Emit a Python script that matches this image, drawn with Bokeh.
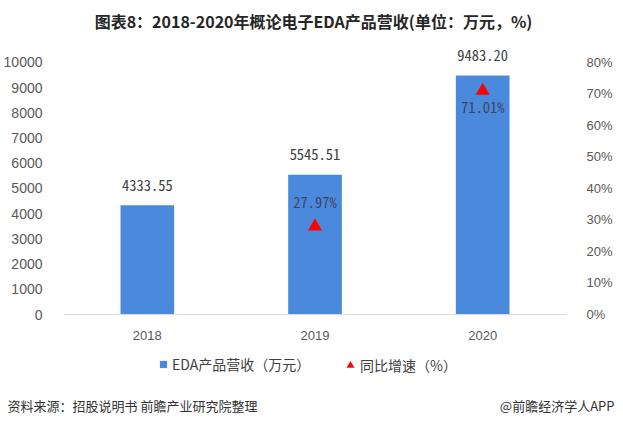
from bokeh.plotting import figure
from bokeh.layouts import column
from bokeh.models import (Range1d, LinearAxis, FixedTicker, PrintfTickFormatter,
                          ColumnDataSource, Label, LabelSet, Legend, LegendItem, FactorRange)
from bokeh.core.properties import value
from bokeh.embed import file_html
from bokeh.resources import INLINE

years = ["2018", "2019", "2020"]
revenue = [4333.55, 5545.51, 9483.20]
revenue_labels = ["4333.55", "5545.51", "9483.20"]
growth_years = ["2019", "2020"]
growth = [27.97, 71.01]
growth_labels = ["27.97%", "71.01%"]
left_ticks = [0, 1000, 2000, 3000, 4000, 5000, 6000, 7000, 8000, 9000, 10000]
right_ticks = [0, 10, 20, 30, 40, 50, 60, 70, 80]

title_text = "图表8：2018-2020年概论电子EDA产品营收(单位：万元，%)"
source_text = "资料来源：招股说明书 前瞻产业研究院整理"
brand_text = "@前瞻经济学人APP"
legend_bar = "EDA产品营收（万元）"
legend_tri = "同比增速（%）"

BAR = "#4a89dc"
RED = "#ff0000"
TXT = "#595959"
CJK = "Noto Sans CJK SC"
MONO = "'Noto Sans Mono CJK SC', 'DejaVu Sans Mono', 'Liberation Mono', monospace"

W = 615
H1 = 345
H2 = 72

p = figure(width=W, height=H1, x_range=FactorRange(*years, range_padding=0),
           y_range=Range1d(0, 12460), output_backend="svg", toolbar_location=None,
           min_border_left=63, min_border_right=42, min_border_top=0, min_border_bottom=31)
p.frame_align = False
p.extra_y_ranges = {"pct": Range1d(0, 99.68)}
p.outline_line_color = None
p.xgrid.grid_line_color = None
p.ygrid.grid_line_color = None
p.background_fill_color = "white"
p.border_fill_color = "white"

# axes
p.yaxis.ticker = FixedTicker(ticks=left_ticks)
p.yaxis.formatter = PrintfTickFormatter(format="%d")
p.yaxis.axis_line_color = None
p.yaxis.major_tick_line_color = None
p.yaxis.minor_tick_line_color = None
p.yaxis.major_label_standoff = 15
p.yaxis.major_label_text_font = "Liberation Sans"
p.yaxis.major_label_text_font_size = "14px"
p.yaxis.major_label_text_color = TXT

ax2 = LinearAxis(y_range_name="pct", ticker=FixedTicker(ticks=right_ticks),
                 formatter=PrintfTickFormatter(format="%d%%"))
ax2.axis_line_color = None
ax2.major_tick_line_color = None
ax2.minor_tick_line_color = None
ax2.major_label_standoff = 14
ax2.major_label_text_font = "Liberation Sans"
ax2.major_label_text_font_size = "13px"
ax2.major_label_text_color = TXT
p.add_layout(ax2, "right")

p.xaxis.axis_line_color = "#d9d9d9"
p.xaxis.major_tick_line_color = None
p.xaxis.minor_tick_line_color = None
p.xaxis.major_label_standoff = 10
p.xaxis.major_label_text_font = "Liberation Sans"
p.xaxis.major_label_text_font_size = "13px"
p.xaxis.major_label_text_color = TXT

# bars
src = ColumnDataSource(dict(x=years, y=revenue, lab=revenue_labels))
p.vbar(x="x", top="y", width=0.32, source=src, fill_color=BAR, line_color=None)
p.add_layout(LabelSet(x="x", y="y", text="lab", source=src, y_offset=20,
                      text_align="center", text_baseline="middle",
                      text_font=value(MONO), text_font_size="14.5px", text_color="#404040"))

# growth triangles
gsrc = ColumnDataSource(dict(x=growth_years, y=growth, lab=growth_labels, off=[25, -16]))
p.scatter(x="x", y="y", source=gsrc, y_range_name="pct", marker="triangle",
          size=14, fill_color=RED, line_color=None)
p.add_layout(LabelSet(x="x", y="y", text="lab", source=gsrc, y_range_name="pct",
                      y_offset="off", text_align="center", text_baseline="middle",
                      text_font=value(MONO), text_font_size="14.5px", text_color="#3a4660"))

# title inside the (tall) frame
p.add_layout(Label(x=250, y=294, x_units="screen", y_units="screen", text=title_text,
                   text_align="center", text_baseline="middle", text_font=CJK,
                   text_font_size="16px", text_font_style="bold", text_color="#262626"))

# lower strip: legend and footer
p2 = figure(width=W, height=H2, x_range=Range1d(0, 1), y_range=Range1d(0, 1),
            output_backend="svg", toolbar_location=None,
            x_axis_location=None, y_axis_location=None,
            min_border_left=0, min_border_right=0, min_border_top=0, min_border_bottom=0)
p2.frame_align = False
p2.outline_line_color = None
p2.xgrid.grid_line_color = None
p2.ygrid.grid_line_color = None
p2.background_fill_color = "white"
p2.border_fill_color = "white"

# legend proxies: one point each, placed outside the visible range
proxy = ColumnDataSource(dict(x=[5], y=[5]))
lg1 = p2.scatter(x="x", y="y", source=proxy, marker="square", size=7,
                 fill_color=BAR, line_color=None)
lg2 = p2.scatter(x="x", y="y", source=proxy, marker="triangle", size=9,
                 fill_color=RED, line_color=None)
for rend, lab, vx, vy, g in [(lg1, legend_bar, 154, 43, 18), (lg2, legend_tri, 340, 42, 20)]:
    lg = Legend(items=[LegendItem(label=lab, renderers=[rend])], location=(vx, vy),
                padding=0, margin=0, glyph_width=g, glyph_height=g, label_height=16,
                label_standoff=0, border_line_color=None, background_fill_alpha=0,
                label_text_font=CJK, label_text_font_size="14px", label_text_color="#404040")
    p2.add_layout(lg, "center")

p2.add_layout(Label(x=7, y=12, x_units="screen", y_units="screen", text=source_text,
                    text_align="left", text_baseline="middle", text_font=CJK,
                    text_font_size="13px", text_color="#333333"))
p2.add_layout(Label(x=614, y=12, x_units="screen", y_units="screen", text=brand_text,
                    text_align="right", text_baseline="middle", text_font=CJK,
                    text_font_size="13px", text_color="#333333"))

layout = column(p, p2, spacing=0)
open("out.html", "w").write(file_html(layout, INLINE))
